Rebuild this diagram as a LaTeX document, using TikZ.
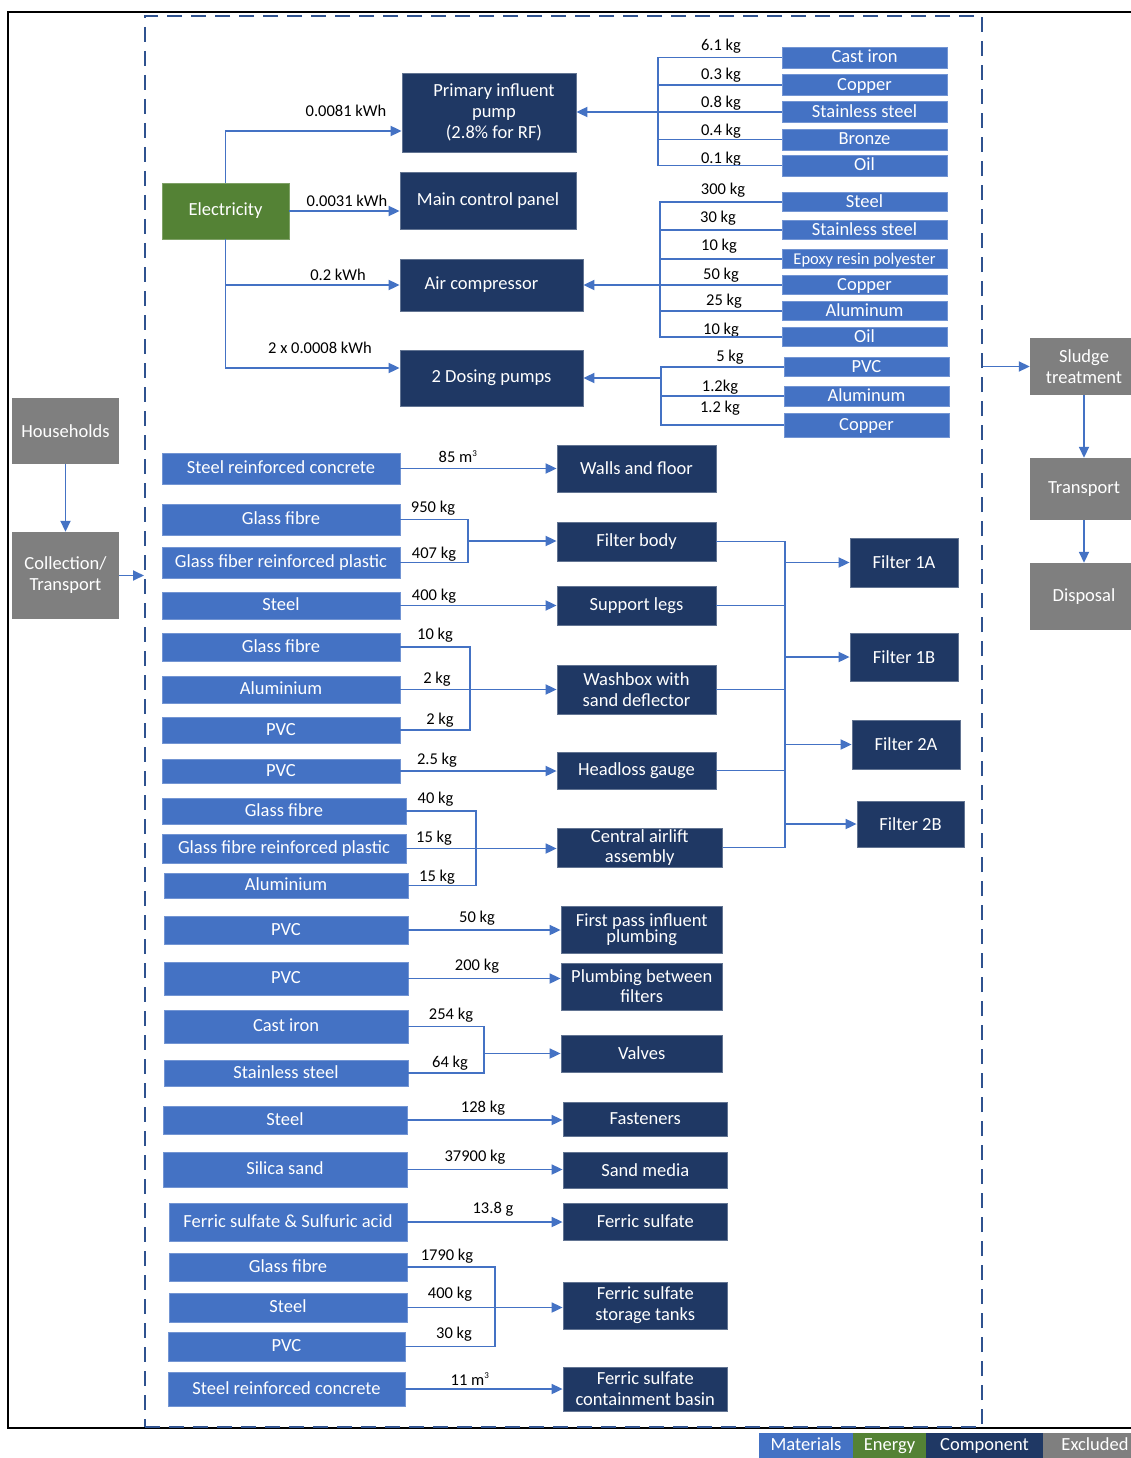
\documentclass[tikz,border=0pt]{standalone}
\usepackage{fontspec}
\setmainfont{Carlito}
\usepackage{tikz}
\usetikzlibrary{arrows.meta}
\definecolor{colMat}{RGB}{68,114,196}
\definecolor{colNrg}{RGB}{84,130,53}
\definecolor{colComp}{RGB}{31,56,100}
\definecolor{colExcl}{RGB}{127,127,127}
\definecolor{colArr}{RGB}{68,114,196}
\definecolor{colDash}{RGB}{47,82,143}

\begin{document}
\begin{tikzpicture}[x=1pt, y=-1pt, >={Triangle[length=11pt,width=10pt]},
    box/.style={rectangle, inner sep=1pt, align=center, text=white,
        font=\fontsize{18.5}{21}\selectfont},
    line1/.style={text height=11.5pt, text depth=1pt},
    wh/.style 2 args={minimum width=#1pt, minimum height=#2pt},
    mat/.style={box, line1, fill=colMat, draw=colMat!75!white, line width=0.8pt},
    comp/.style={box, fill=colComp, draw=colComp!70!white, line width=0.8pt},
    nrg/.style={box, fill=colNrg, draw=colNrg!75!white, line width=0.8pt},
    excl/.style={box, fill=colExcl},
    flow/.style={draw=colArr, line width=1.8pt},
    qty/.style={inner sep=0pt, font=\fontsize{16.5}{18}\selectfont}]

\useasboundingbox (0,0) rectangle (1131,1458);
\fill[white] (0,0) rectangle (1131,1458);
\clip (0,0) rectangle (1131,1458);

% Cadre
\draw[line width=1.5pt] (1140,12) -- (8,12) -- (8,1428) -- (1140,1428);
\node[draw=colDash, line width=2pt, dash pattern=on 15pt off 9pt, wh={837}{1411}]
    (sys) at (563.5,721.5) {};

% Hors systeme
\node[excl, wh={107}{66}] (house) at (65.5,431) {Households};
\node[excl, wh={107}{87}] (coll) at (65.5,575.5) {Collection/\\Transport};
\draw[flow,->] (house) -- (coll);
\draw[flow,->] (coll.east) -- (coll.east -| sys.west);

\node[excl, wh={108}{57}] (sludge) at (1084,366.5) {Sludge\\treatment};
\node[excl, wh={108}{62}] (transp) at (1084,489) {Transport};
\node[excl, wh={108}{67}] (disp) at (1084,596.5) {Disposal};
\draw[flow,->] (sys.east |- sludge.west) -- (sludge.west);
\draw[flow,->] (sludge) -- (transp);
\draw[flow,->] (transp) -- (disp);

% Energie
\node[nrg, wh={127}{56}] (elec) at (225.5,211) {Electricity};
\node[comp, wh={174}{79}] (pump) at (489,112.5) {\hspace*{10pt}Primary influent\\\hspace*{10pt}pump\\\hspace*{10pt}(2.8\% for RF)};
\node[comp, wh={176}{57}] (panel) at (488,200.5) {Main control panel};
\node[comp, wh={183}{52}] (aircomp) at (491.5,285) {Air compressor\hspace*{20pt}};
\node[comp, wh={183}{56}] (dosing) at (491.5,378) {2 Dosing pumps};

\draw[flow,->] (elec.north) |- ([yshift=-18.5pt]pump.west);
\draw[flow,->] (elec.east) -- (elec.east -| panel.west);
\draw[flow,->] (elec.south) |- (aircomp.west);
\draw[flow,->] (elec.south) |- ([yshift=10pt]dosing.west);
\node[qty] (kw1) at (346,111) {0.0081 kWh};
\node[qty] (kw2) at (347,201) {0.0031 kWh};
\node[qty] (kw3) at (338,275) {0.2 kWh};
\node[qty] (kw4) at (320,348) {2 x 0.0008 kWh};

% Materiaux de la pompe
\foreach \nm/\yy/\txt/\qq/\qy in {pA1/57.5/Cast iron/6.1 kg/46, pA2/85/Copper/0.3 kg/75,
    pA3/112/Stainless steel/0.8 kg/103, pA4/139.5/Bronze/0.4 kg/131, pA5/165.5/Oil/0.1 kg/159} {
    \node[mat, wh={165}{21}] (\nm) at (864.5,\yy) {\txt};
    \node[qty] (q\nm) at (721,\qy) {\qq};
}
\coordinate (jPump) at (658,112);
\draw[flow] (pA1.west) -| (jPump) |- (pA5.west);
\foreach \nm in {pA2,pA3,pA4} \draw[flow] (\nm.west) -- (\nm.west -| jPump);
\draw[flow,->] (jPump) -- (jPump -| pump.east);

% Materiaux du compresseur
\foreach \nm/\yy/\txt/\fz/\qq/\qx/\qy in {cB1/202/Steel/18.5/300 kg/723/190,
    cB2/230/Stainless steel/18.5/30 kg/718/218, cB3/259/Epoxy resin polyester/16.5/10 kg/719/246,
    cB4/285/Copper/18.5/50 kg/721/275, cB5/311/Aluminum/18.5/25 kg/724/301,
    cB6/337/Oil/18.5/10 kg/721/330} {
    \node[mat, wh={165}{19}, font=\fontsize{\fz}{20}\selectfont] (\nm) at (864.5,\yy) {\txt};
    \node[qty] (q\nm) at (\qx,\qy) {\qq};
}
\coordinate (jComp) at (660,285);
\draw[flow] (cB1.west) -| (jComp) |- (cB6.west);
\foreach \nm in {cB2,cB3,cB5} \draw[flow] (\nm.west) -- (\nm.west -| jComp);
\draw[flow,->] (cB4.west) -- (cB4.west -| aircomp.east);

% Materiaux des pompes doseuses
\foreach \nm/\yy/\hh/\txt/\qq/\qx/\qy in {dC1/367/19/PVC/5 kg/730/357,
    dC2/396/20/Aluminum/1.2kg/720/387, dC3/425/24/Copper/1.2 kg/720/408} {
    \node[mat, wh={165}{\hh}] (\nm) at (866.5,\yy) {\txt};
    \node[qty] (q\nm) at (\qx,\qy) {\qq};
}
\coordinate (jDos) at (661,378);
\draw[flow] (dC1.west) -| (jDos) |- (dC3.west);
\draw[flow] (dC2.west) -- (dC2.west -| jDos);
\draw[flow,->] (jDos) -- (jDos -| dosing.east);

% Filtres : materiaux
\node[mat, wh={238}{31}] (src1) at (281,468.5) {Steel reinforced concrete};
\node[mat, wh={238}{31}] (gf1) at (281,519.5) {Glass fibre};
\node[mat, wh={238}{31}] (gfrp1) at (281,562.5) {Glass fiber reinforced plastic};
\node[mat, wh={238}{27}] (st1) at (281,605.5) {Steel};
\node[mat, wh={238}{28}] (gf2) at (281,647) {Glass fibre};
\node[mat, wh={238}{27}] (al1) at (281,689.5) {Aluminium};
\node[mat, wh={238}{26}] (pvc1) at (281,730) {PVC};
\node[mat, wh={238}{24}] (pvc2) at (281,771) {PVC};
\node[mat, wh={244}{26}] (gf3) at (284,811) {Glass fibre};
\node[mat, wh={244}{29}] (gfrp2) at (284,848.5) {Glass fibre reinforced plastic};
\node[mat, wh={244}{25}] (al2) at (286,885.5) {Aluminium};

% Filtres : composants
\node[comp, wh={159}{47}] (walls) at (636.5,468.5) {Walls and floor};
\node[comp, wh={159}{39}] (fbody) at (636.5,541.5) {Filter body};
\node[comp, wh={159}{39}] (legs) at (636.5,605.5) {Support legs};
\node[comp, wh={159}{49}] (wash) at (636.5,689.5) {Washbox with\\sand deflector};
\node[comp, wh={159}{37}] (gauge) at (636.5,770.5) {Headloss gauge};
\node[comp, wh={165.5}{39}] (airlift) at (639.75,847.5) {Central airlift\\[-1pt]assembly};

\draw[flow,->] (src1.east) -- (src1.east -| walls.west);
\coordinate (jBody) at (468,541);
\draw[flow] (gf1.east) -| (jBody) |- (gfrp1.east);
\draw[flow,->] (jBody) -- (jBody -| fbody.west);
\draw[flow,->] (st1.east) -- (st1.east -| legs.west);
\coordinate (jWash) at (470,689.5);
\draw[flow] (gf2.east) -| (jWash) |- (pvc1.east);
\draw[flow,->] (al1.east) -- (al1.east -| wash.west);
\draw[flow,->] (pvc2.east) -- (pvc2.east -| gauge.west);
\coordinate (jLift) at (476,848.5);
\draw[flow] (gf3.east) -| (jLift) |- (al2.east);
\draw[flow,->] (gfrp2.east) -- (gfrp2.east -| airlift.west);

\node[qty] (q85) at (458,457) {85 m\textsuperscript{\fontsize{9}{9}\selectfont 3}};
\node[qty] (q950) at (433,508) {950 kg};
\node[qty] (q407) at (434,554) {407 kg};
\node[qty] (q400a) at (434,596) {400 kg};
\node[qty] (q10) at (435,635) {10 kg};
\node[qty] (q2a) at (437,679) {2 kg};
\node[qty] (q2b) at (440,720) {2 kg};
\node[qty] (q25) at (437,760) {2.5 kg};
\node[qty] (q40) at (435.5,799) {40 kg};
\node[qty] (q15a) at (434,838) {15 kg};
\node[qty] (q15b) at (437,877) {15 kg};

% Filtres 1A a 2B
\node[comp, wh={108}{49}] (f1a) at (904,562.5) {Filter 1A};
\node[comp, wh={108}{48}] (f1b) at (904,657) {Filter 1B};
\node[comp, wh={108}{49}] (f2a) at (906,744.5) {Filter 2A};
\node[comp, wh={107}{46}] (f2b) at (910.5,824) {Filter 2B};
\coordinate (jFilt) at (785,700);
\draw[flow] (fbody.east) -| (jFilt) |- (airlift.east);
\foreach \nm in {legs,wash,gauge} \draw[flow] (\nm.east) -- (\nm.east -| jFilt);
\foreach \nm in {f1a,f1b,f2a,f2b} \draw[flow,->] (\nm.west -| jFilt) -- (\nm.west);

% Plomberie, vannes, media, reactif
\node[mat, wh={244}{28}] (pvc3) at (286,930) {PVC};
\node[mat, wh={244}{33}] (pvc4) at (286,978.5) {PVC};
\node[mat, wh={244}{33}] (ci) at (286,1026.5) {Cast iron};
\node[mat, wh={244}{26}] (ss) at (286,1073) {Stainless steel};
\node[mat, wh={244}{28}] (st2) at (285,1120) {Steel};
\node[mat, wh={244}{35}] (sand) at (285,1169.5) {Silica sand};
\node[mat, wh={238}{38}] (fsa) at (288,1222) {Ferric sulfate \& Sulfuric acid};
\node[mat, wh={238}{28}] (gf4) at (288,1267) {Glass fibre};
\node[mat, wh={238}{29}] (st3) at (288,1307.5) {Steel};
\node[mat, wh={237}{29}] (pvc5) at (286.5,1346.5) {PVC};
\node[mat, wh={237}{34}] (src2) at (286.5,1389) {Steel reinforced concrete};

\node[comp, wh={161.5}{47}] (first) at (641.75,929.5) {First pass influent\\[-5pt]plumbing};
\node[comp, wh={161.5}{47}] (plumb) at (641.75,986.5) {Plumbing between\\[-1pt]filters};
\node[comp, wh={161.5}{37}] (valves) at (641.75,1053.5) {Valves};
\node[comp, wh={164.5}{34}] (fasten) at (645.25,1119) {Fasteners};
\node[comp, wh={164.5}{36}] (media) at (645.25,1170) {Sand media};
\node[comp, wh={164.5}{37}] (ferric) at (645.25,1221.5) {Ferric sulfate};
\node[comp, wh={164.5}{47}] (tanks) at (645.25,1305.5) {Ferric sulfate\\storage tanks};
\node[comp, wh={164.5}{44}] (basin) at (645.25,1389) {Ferric sulfate\\containment basin};

\draw[flow,->] (pvc3.east) -- (pvc3.east -| first.west);
\draw[flow,->] (pvc4.east) -- (pvc4.east -| plumb.west);
\coordinate (jValve) at (484,1053.5);
\draw[flow] (ci.east) -| (jValve) |- (ss.east);
\draw[flow,->] (jValve) -- (jValve -| valves.west);
\draw[flow,->] (st2.east) -- (st2.east -| fasten.west);
\draw[flow,->] (sand.east) -- (sand.east -| media.west);
\draw[flow,->] (fsa.east) -- (fsa.east -| ferric.west);
\coordinate (jTank) at (495,1307.5);
\draw[flow] (gf4.east) -| (jTank) |- (pvc5.east);
\draw[flow,->] (st3.east) -- (st3.east -| tanks.west);
\draw[flow,->] (src2.east) -- (src2.east -| basin.west);

\node[qty] (q50) at (477,918) {50 kg};
\node[qty] (q200) at (477,966) {200 kg};
\node[qty] (q254) at (451,1015) {254 kg};
\node[qty] (q64) at (450,1063) {64 kg};
\node[qty] (q128) at (483,1108) {128 kg};
\node[qty] (q37900) at (475,1157) {37900 kg};
\node[qty] (q138) at (493,1209) {13.8 g};
\node[qty] (q1790) at (447,1256) {1790 kg};
\node[qty] (q400b) at (450,1294) {400 kg};
\node[qty] (q30) at (454,1334) {30 kg};
\node[qty] (q11) at (470,1379) {11 m\textsuperscript{\fontsize{9}{9}\selectfont 3}};

% Legende
\node[box, line1, fill=colMat, wh={94}{25}] (lgMat) at (806,1445.5) {Materials};
\node[box, line1, fill=colNrg, wh={73}{25}] (lgNrg) at (889.5,1445.5) {Energy};
\node[box, line1, fill=colComp, wh={117}{25}] (lgComp) at (984.5,1445.5) {Component};
\node[box, line1, fill=colExcl, wh={104}{25}] (lgExcl) at (1095,1445.5) {Excluded};

\end{tikzpicture}
\end{document}
